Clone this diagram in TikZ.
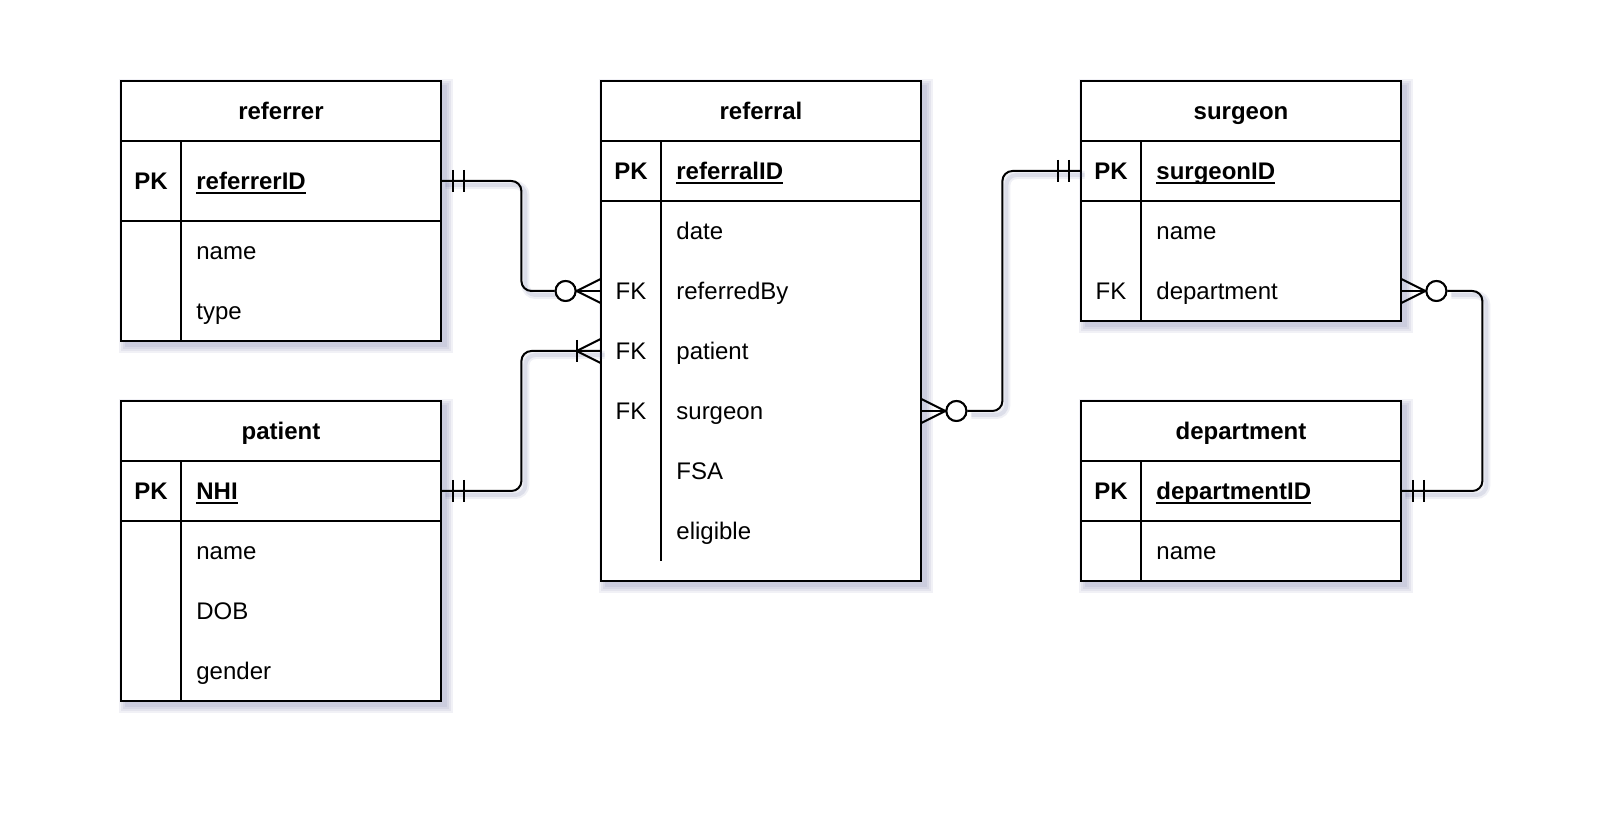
\documentclass[tikz,border=0pt]{standalone}
\usepackage{fontspec}
\setmainfont{Liberation Sans}
\usetikzlibrary{calc}
\definecolor{shadowc}{RGB}{60,65,130}
\newcommand\pkul[1]{\setbox0=\hbox{#1}\rlap{\rule[-2pt]{\wd0}{0.9pt}}\box0}
\newcommand\tshadow[4]{\foreach \r in {1,3,5,7}{\fill[shadowc, opacity=0.07] ({#1+5-\r},{#2+5-\r}) rectangle ({#3+5+\r},{#4+5+\r});}}
\tikzset{
 tbl/.style={draw, line width=1pt, fill=white, rectangle, inner sep=0pt, minimum width=160pt},
 rowbox/.style={rectangle, inner sep=0pt, minimum width=160pt, minimum height=30pt},
 txt/.style={anchor=base west, inner sep=0pt, font=\fontsize{12pt}{14pt}\selectfont},
 keytxt/.style={anchor=base, inner sep=0pt, font=\fontsize{12pt}{14pt}\selectfont},
 ttl/.style={anchor=base, inner sep=0pt, font=\fontsize{12pt}{14pt}\selectfont\bfseries},
 sep/.style={line width=1pt},
 conn/.style={line width=1pt, line join=round},
 lshadow/.style={preaction={draw=shadowc, draw opacity=0.08, line width=4pt, transform canvas={shift={(2pt,-2pt)}}},
                 preaction={draw=shadowc, draw opacity=0.10, line width=2pt, transform canvas={shift={(2pt,-2pt)}}}},
 oc/.style={circle, draw, fill=white, line width=1pt, minimum size=10pt, inner sep=0pt}
}
\begin{document}
\begin{tikzpicture}[x=0.5pt,y=-0.5pt]
\useasboundingbox (0,0) rectangle (1622,822);
\fill[white] (0,0) rectangle (1622,822);

% shadows
\tshadow{121}{81}{441}{341}
\tshadow{121}{401}{441}{701}
\tshadow{601}{81}{921}{581}
\tshadow{1081}{81}{1401}{321}
\tshadow{1081}{401}{1401}{581}

% ---------- referrer ----------
\node[tbl, minimum height=130pt] (referrer) at (281,211) {};
\draw[sep] (121,141) -- (441,141);
\draw[sep] (121,221) -- (441,221);
\draw[sep] (181,141) -- (181,341);
\node[rowbox, minimum height=40pt] (referrer-pk) at (281,181) {};
\node[ttl] (referrer-t) at (281,120) {referrer};
\node[keytxt, font=\fontsize{12pt}{14pt}\selectfont\bfseries] (referrer-k) at (151,190) {PK};
\node[txt, font=\fontsize{12pt}{14pt}\selectfont\bfseries] (referrer-id) at (196,190) {\pkul{referrerID}};
\node[txt] (referrer-a1) at (196,260) {name};
\node[txt] (referrer-a2) at (196,320) {type};

% ---------- patient ----------
\node[tbl, minimum height=150pt] (patient) at (281,551) {};
\draw[sep] (121,461) -- (441,461);
\draw[sep] (121,521) -- (441,521);
\draw[sep] (181,461) -- (181,701);
\node[rowbox] (pat-pk) at (281,491) {};
\node[ttl] (patient-t) at (281,440) {patient};
\node[keytxt, font=\fontsize{12pt}{14pt}\selectfont\bfseries] (patient-k) at (151,500) {PK};
\node[txt, font=\fontsize{12pt}{14pt}\selectfont\bfseries] (patient-id) at (196,500) {\pkul{NHI}};
\node[txt] (patient-a1) at (196,560) {name};
\node[txt] (patient-a2) at (196,620) {DOB};
\node[txt] (patient-a3) at (196,680) {gender};

% ---------- referral ----------
\node[tbl, minimum height=250pt] (referral) at (761,331) {};
\draw[sep] (601,141) -- (921,141);
\draw[sep] (601,201) -- (921,201);
\draw[sep] (661,141) -- (661,561);
\node[rowbox] (ref-by) at (761,291) {};
\node[rowbox] (ref-pat) at (761,351) {};
\node[rowbox] (ref-sur) at (761,411) {};
\node[ttl] (referral-t) at (761,120) {referral};
\node[keytxt, font=\fontsize{12pt}{14pt}\selectfont\bfseries] (referral-k) at (631,180) {PK};
\node[txt, font=\fontsize{12pt}{14pt}\selectfont\bfseries] (referral-id) at (676,180) {\pkul{referralID}};
\node[txt] (referral-a1) at (676,240) {date};
\node[keytxt] (referral-f2) at (631,300) {FK};
\node[txt] (referral-a2) at (676,300) {referredBy};
\node[keytxt] (referral-f3) at (631,360) {FK};
\node[txt] (referral-a3) at (676,360) {patient};
\node[keytxt] (referral-f4) at (631,420) {FK};
\node[txt] (referral-a4) at (676,420) {surgeon};
\node[txt] (referral-a5) at (676,480) {FSA};
\node[txt] (referral-a6) at (676,540) {eligible};

% ---------- surgeon ----------
\node[tbl, minimum height=120pt] (surgeon) at (1241,201) {};
\draw[sep] (1081,141) -- (1401,141);
\draw[sep] (1081,201) -- (1401,201);
\draw[sep] (1141,141) -- (1141,321);
\node[rowbox] (sur-pk) at (1241,171) {};
\node[rowbox] (sur-dep) at (1241,291) {};
\node[ttl] (surgeon-t) at (1241,120) {surgeon};
\node[keytxt, font=\fontsize{12pt}{14pt}\selectfont\bfseries] (surgeon-k) at (1111,180) {PK};
\node[txt, font=\fontsize{12pt}{14pt}\selectfont\bfseries] (surgeon-id) at (1156,180) {\pkul{surgeonID}};
\node[txt] (surgeon-a1) at (1156,240) {name};
\node[keytxt] (surgeon-f2) at (1111,300) {FK};
\node[txt] (surgeon-a2) at (1156,300) {department};

% ---------- department ----------
\node[tbl, minimum height=90pt] (department) at (1241,491) {};
\draw[sep] (1081,461) -- (1401,461);
\draw[sep] (1081,521) -- (1401,521);
\draw[sep] (1141,461) -- (1141,581);
\node[rowbox] (dep-pk) at (1241,491) {};
\node[ttl] (department-t) at (1241,440) {department};
\node[keytxt, font=\fontsize{12pt}{14pt}\selectfont\bfseries] (department-k) at (1111,500) {PK};
\node[txt, font=\fontsize{12pt}{14pt}\selectfont\bfseries] (department-id) at (1156,500) {\pkul{departmentID}};
\node[txt] (department-a1) at (1156,560) {name};

% ---------- connectors ----------
% circles
\node[oc] (c1) at ([xshift=-17.5pt]ref-by.west) {};
\node[oc] (c3) at ([xshift=17.5pt]ref-sur.east) {};
\node[oc] (c4) at ([xshift=17.5pt]sur-dep.east) {};

% referrer -> referral (one and only one / zero or many)
\draw[conn, lshadow, rounded corners=5pt] (referrer-pk.east) -- ++(80,0) |- (c1.west);
\draw[conn, lshadow] (c1.east) -- ([xshift=-12pt]ref-by.west);
\draw[conn] ([xshift=6pt,yshift=5.5pt]referrer-pk.east) -- ([xshift=6pt,yshift=-5.5pt]referrer-pk.east);
\draw[conn] ([xshift=11.5pt,yshift=5.5pt]referrer-pk.east) -- ([xshift=11.5pt,yshift=-5.5pt]referrer-pk.east);
\draw[conn] ([yshift=6pt]ref-by.west) -- ([xshift=-12pt]ref-by.west) -- ([yshift=-6pt]ref-by.west);
\draw[conn] ([xshift=-12pt]ref-by.west) -- (ref-by.west);

% patient -> referral (one and only one / one or many)
\draw[conn, lshadow, rounded corners=5pt] (pat-pk.east) -- ++(80,0) |- (ref-pat.west);
\draw[conn] ([xshift=6pt,yshift=5.5pt]pat-pk.east) -- ([xshift=6pt,yshift=-5.5pt]pat-pk.east);
\draw[conn] ([xshift=11.5pt,yshift=5.5pt]pat-pk.east) -- ([xshift=11.5pt,yshift=-5.5pt]pat-pk.east);
\draw[conn] ([yshift=6pt]ref-pat.west) -- ([xshift=-12pt]ref-pat.west) -- ([yshift=-6pt]ref-pat.west);
\draw[conn] ([xshift=-12pt,yshift=5.5pt]ref-pat.west) -- ([xshift=-12pt,yshift=-5.5pt]ref-pat.west);

% referral -> surgeon (zero or many / one and only one)
\draw[conn, lshadow, rounded corners=5pt] (c3.east) -- ++(35,0) |- (sur-pk.west);
\draw[conn, lshadow] ([xshift=12pt]ref-sur.east) -- (c3.west);
\draw[conn] ([yshift=6pt]ref-sur.east) -- ([xshift=12pt]ref-sur.east) -- ([yshift=-6pt]ref-sur.east);
\draw[conn] (ref-sur.east) -- ([xshift=12pt]ref-sur.east);
\draw[conn] ([xshift=-6pt,yshift=5.5pt]sur-pk.west) -- ([xshift=-6pt,yshift=-5.5pt]sur-pk.west);
\draw[conn] ([xshift=-11.5pt,yshift=5.5pt]sur-pk.west) -- ([xshift=-11.5pt,yshift=-5.5pt]sur-pk.west);

% surgeon -> department (zero or many / one and only one)
\draw[conn, lshadow, rounded corners=5pt] (c4.east) -- ++(35,0) |- (dep-pk.east);
\draw[conn, lshadow] ([xshift=12pt]sur-dep.east) -- (c4.west);
\draw[conn] ([yshift=6pt]sur-dep.east) -- ([xshift=12pt]sur-dep.east) -- ([yshift=-6pt]sur-dep.east);
\draw[conn] (sur-dep.east) -- ([xshift=12pt]sur-dep.east);
\draw[conn] ([xshift=6pt,yshift=5.5pt]dep-pk.east) -- ([xshift=6pt,yshift=-5.5pt]dep-pk.east);
\draw[conn] ([xshift=11.5pt,yshift=5.5pt]dep-pk.east) -- ([xshift=11.5pt,yshift=-5.5pt]dep-pk.east);

% redraw circles on top
\node[oc] at (c1) {};
\node[oc] at (c3) {};
\node[oc] at (c4) {};
\end{tikzpicture}
\end{document}
